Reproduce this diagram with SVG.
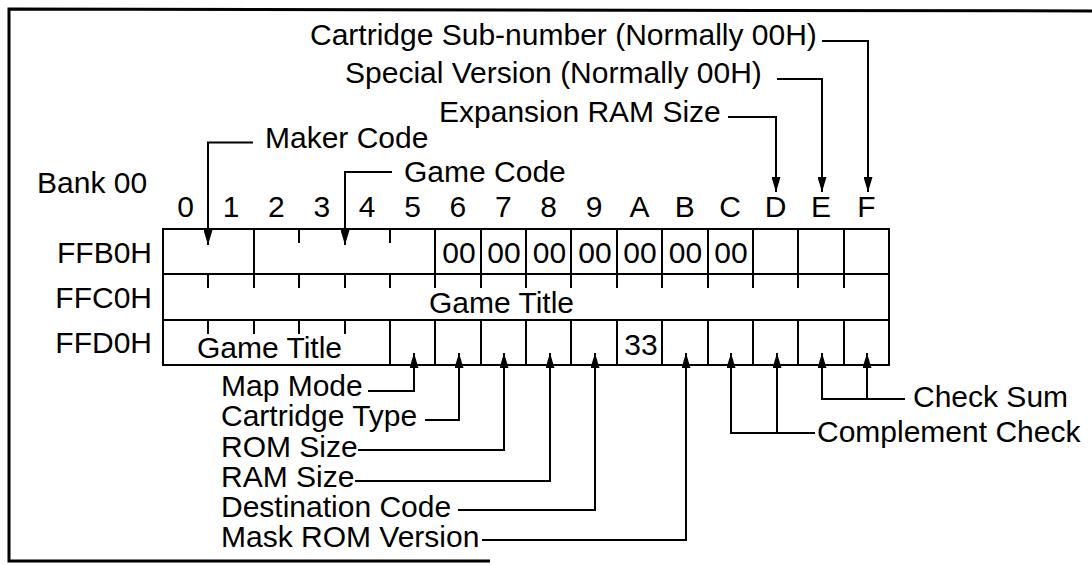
<svg xmlns="http://www.w3.org/2000/svg" width="1092" height="565" viewBox="0 0 1092 565">
<defs>
<style>
text { font-family: "Liberation Sans", Arial, Helvetica, sans-serif; font-size: 30px; fill: #000; }
.c { text-anchor: middle; }
.e { text-anchor: end; }
.g { stroke: #000; stroke-width: 2; fill: none; }
.conn { stroke: #000; stroke-width: 2; fill: none; marker-end: url(#ah); }
.plain { stroke: #000; stroke-width: 2; fill: none; }
.frame { stroke: #000; stroke-width: 3; fill: none; }
</style>
<marker id="ah" viewBox="0 0 15 9" refX="15" refY="4.5" markerWidth="15" markerHeight="9" markerUnits="userSpaceOnUse" orient="auto">
<path d="M0,0 L15,4.5 L0,9 z" fill="#000"/>
</marker>
</defs>
<rect width="1092" height="565" fill="#fff"/>
<path class="frame" d="M1092,11 L9,9 L9,561 L490,561"/>

<g id="bank-label"><text x="37" y="193">Bank 00</text></g>

<g id="column-headers">
<text class="c" x="185.7" y="217">0</text>
<text class="c" x="231.1" y="217">1</text>
<text class="c" x="276.4" y="217">2</text>
<text class="c" x="321.8" y="217">3</text>
<text class="c" x="367.2" y="217">4</text>
<text class="c" x="412.6" y="217">5</text>
<text class="c" x="457.9" y="217">6</text>
<text class="c" x="503.3" y="217">7</text>
<text class="c" x="548.7" y="217">8</text>
<text class="c" x="594.1" y="217">9</text>
<text class="c" x="639.4" y="217">A</text>
<text class="c" x="684.8" y="217">B</text>
<text class="c" x="730.2" y="217">C</text>
<text class="c" x="775.6" y="217">D</text>
<text class="c" x="820.9" y="217">E</text>
<text class="c" x="866.3" y="217">F</text>
</g>

<g id="row-labels">
<text class="e" x="152" y="263">FFB0H</text>
<text class="e" x="152" y="308">FFC0H</text>
<text class="e" x="152" y="353">FFD0H</text>
</g>

<g id="grid">
<rect class="g" x="163" y="229" width="726" height="136"/>
<path class="g" d="M163,274 H889 M163,320 H889"/>
<path class="g" d="M254,229 V274 M435,229 V274 M481,229 V274 M526,229 V274 M571,229 V274 M617,229 V274 M662,229 V274 M708,229 V274 M753,229 V274 M798,229 V274 M844,229 V274"/>
<path class="g" d="M299,229 V243 M390,229 V243"/>
<path class="g" d="M208,274 V288 M254,274 V288 M299,274 V288 M345,274 V288 M390,274 V288 M435,274 V288 M481,274 V288 M526,274 V288 M571,274 V288 M617,274 V288 M662,274 V288 M708,274 V288 M753,274 V288 M798,274 V288 M844,274 V288"/>
<path class="g" d="M208,320 V334 M254,320 V334 M299,320 V334 M345,320 V334"/>
<path class="g" d="M390,320 V365 M435,320 V365 M481,320 V365 M526,320 V365 M571,320 V365 M617,320 V365 M662,320 V365 M708,320 V365 M753,320 V365 M798,320 V365 M844,320 V365"/>
</g>

<g id="cell-values">
<text class="c" x="459" y="263">00</text>
<text class="c" x="504" y="263">00</text>
<text class="c" x="549.5" y="263">00</text>
<text class="c" x="595" y="263">00</text>
<text class="c" x="640" y="263">00</text>
<text class="c" x="685.5" y="263">00</text>
<text class="c" x="731" y="263">00</text>
<text x="429" y="313">Game Title</text>
<text x="197" y="358">Game Title</text>
<text class="c" x="641" y="355">33</text>
</g>

<g id="top-labels">
<text x="310" y="45">Cartridge Sub-number (Normally 00H)</text>
<text x="345" y="83">Special Version (Normally 00H)</text>
<text x="439" y="122">Expansion RAM Size</text>
<text x="265" y="148">Maker Code</text>
<text x="404" y="182">Game Code</text>
</g>

<g id="bottom-labels">
<text x="221" y="396">Map Mode</text>
<text x="221" y="426">Cartridge Type</text>
<text x="221" y="457">ROM Size</text>
<text x="221" y="487">RAM Size</text>
<text x="221" y="517">Destination Code</text>
<text x="221" y="547">Mask ROM Version</text>
<text x="913" y="407">Check Sum</text>
<text x="817" y="442">Complement Check</text>
</g>

<g id="connectors">
<path class="conn" d="M822,41 H868 V192"/>
<path class="conn" d="M777,79 H822 V192"/>
<path class="conn" d="M728,117 H776 V192"/>
<path class="conn" d="M253,142.5 H208 V245"/>
<path class="conn" d="M392,172 H345 V245"/>
<path class="conn" d="M368,391 H414 V353"/>
<path class="conn" d="M425,420 H459 V353"/>
<path class="conn" d="M358,450 H504 V353"/>
<path class="conn" d="M355,481 H550 V353"/>
<path class="conn" d="M458,510 H595 V353"/>
<path class="conn" d="M482,540 H686 V353"/>
<path class="conn" d="M905,399 H822 V353"/>
<path class="conn" d="M867,399 V353"/>
<path class="conn" d="M815,433 H731 V353"/>
<path class="conn" d="M777,433 V353"/>
</g>
</svg>
